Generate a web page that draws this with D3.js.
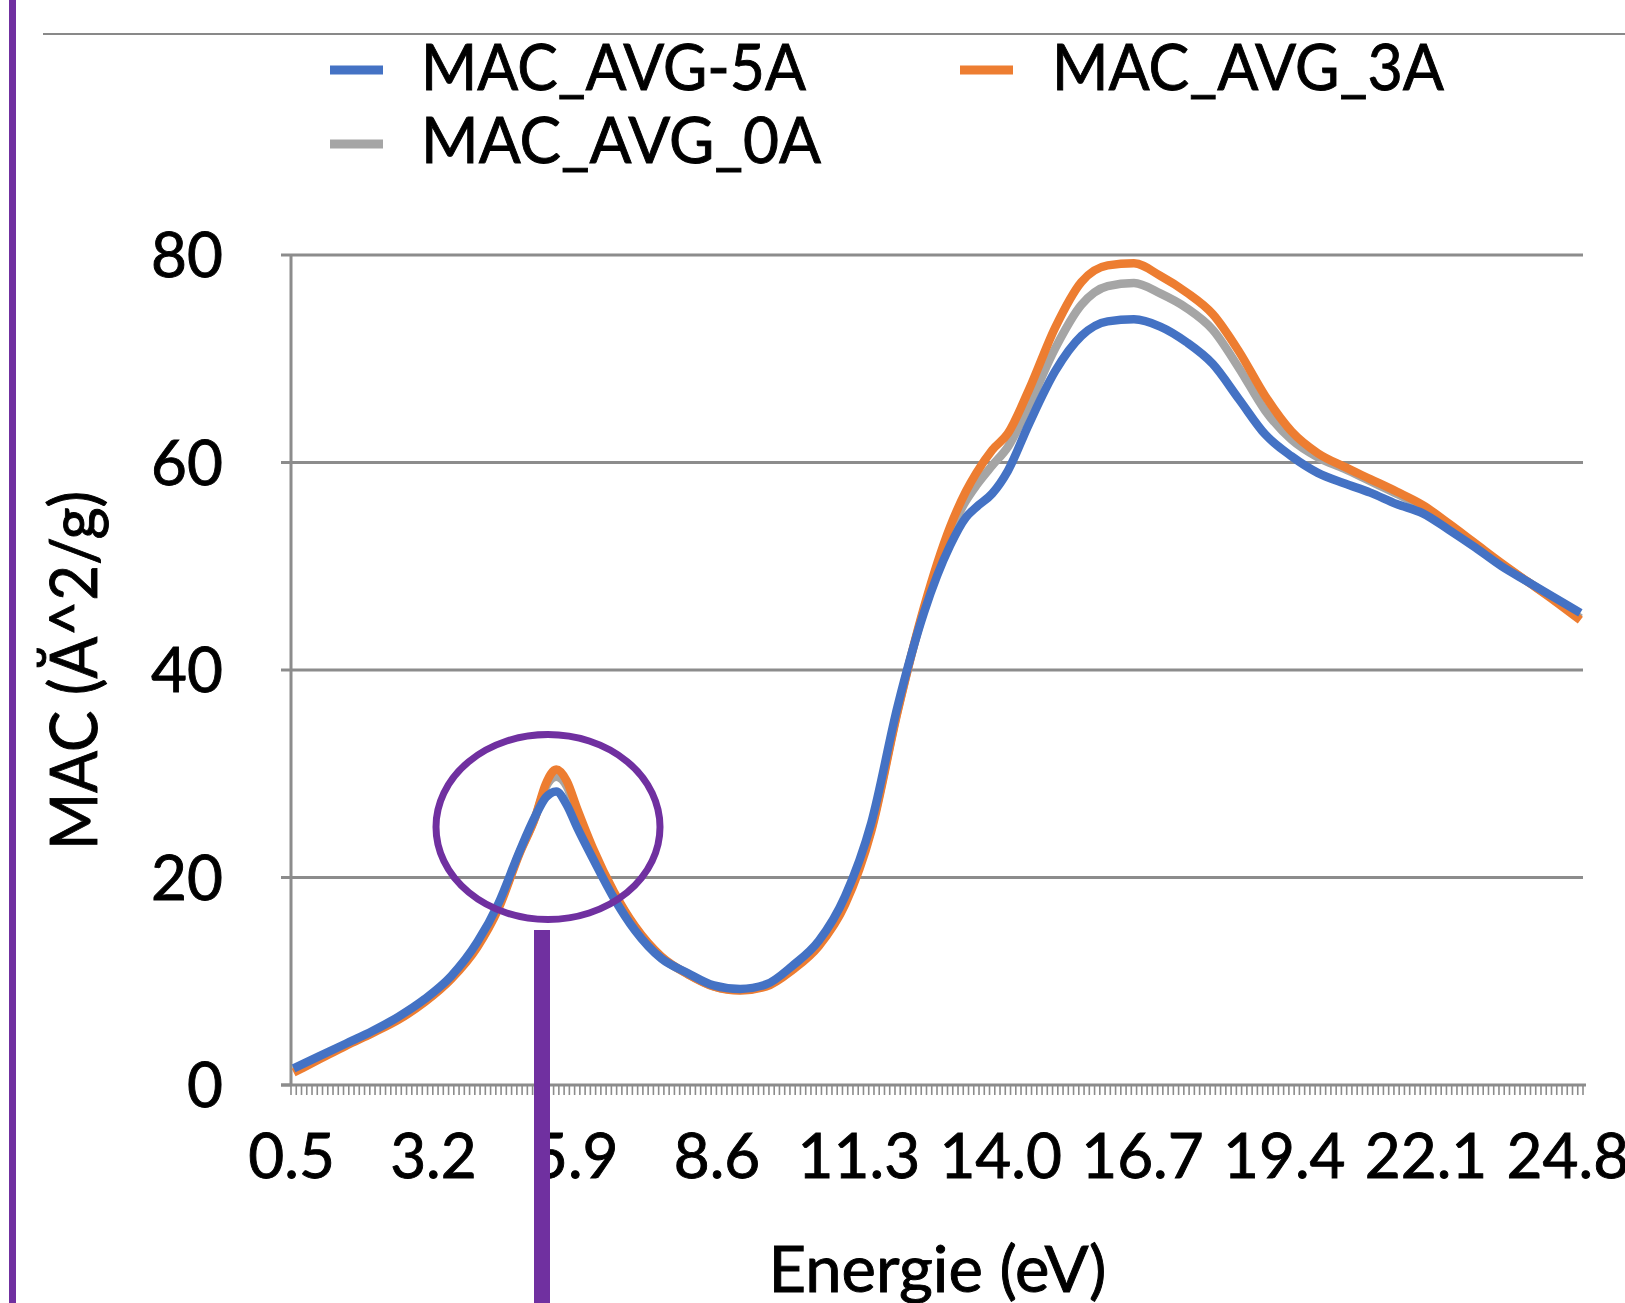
<!DOCTYPE html>
<html>
<head>
<meta charset="utf-8">
<script src="https://cdn.jsdelivr.net/npm/d3@7"></script>
<style>
  html, body { margin: 0; padding: 0; background: #ffffff; }
  svg { display: block; }
  text { font-family: Lato, "Open Sans", sans-serif; fill: #000; stroke: #000; stroke-width: 0.9px; }
</style>
</head>
<body>
<div id="chart"></div>
<script>
// ---------------- DATA ----------------
const seriesNames = ["MAC_AVG-5A", "MAC_AVG_3A", "MAC_AVG_0A"];
const seriesColors = ["#4472C4", "#ED7D31", "#A5A5A5"];

const energies = [0.5,1.0,1.5,2.0,2.5,3.0,3.5,4.0,4.4,4.8,5.1,5.3,5.5,5.7,5.9,6.2,6.6,7.0,7.5,8.0,
  8.5,9.0,9.5,10.0,10.5,11.0,11.5,12.0,12.5,13.0,13.3,13.5,13.8,14.1,14.5,15.0,15.5,16.0,16.5,17.0,
  17.5,18.0,18.5,19.0,19.5,20.0,20.5,21.0,21.5,22.0,22.5,23.0,23.5,24.0,24.5,25.0];

const mac5A = [1.6,2.8,4.0,5.2,6.6,8.3,10.5,13.8,17.5,22.5,25.9,27.7,28.3,27.0,24.8,21.8,18.0,14.9,12.2,10.8,
  9.6,9.25,9.7,11.5,13.9,18.2,25.3,36.5,45.5,52.0,54.7,55.7,57.0,59.2,63.7,68.8,72.2,73.6,73.8,73.1,
  71.6,69.5,66.1,62.7,60.6,59.0,58.0,57.1,56.0,55.1,53.5,51.8,50.0,48.5,47.0,45.5];

const mac3A = [1.2,2.5,3.8,5.0,6.3,8.0,10.2,13.3,17.0,22.3,25.8,29.0,30.4,29.3,26.6,22.8,18.6,15.3,12.4,10.7,
  9.5,9.1,9.5,11.1,13.4,17.4,24.5,36.0,46.0,53.8,57.2,59.0,61.2,62.8,67.0,73.0,77.4,79.0,79.2,78.0,
  76.4,74.3,70.7,66.4,63.0,60.9,59.6,58.4,57.2,55.9,54.1,52.2,50.3,48.5,46.7,44.8];

const mac0A = [1.4,2.6,3.9,5.1,6.4,8.1,10.3,13.5,17.2,22.4,25.8,28.7,29.7,28.8,26.1,22.5,18.5,15.2,12.3,10.7,
  9.5,9.15,9.6,11.2,13.5,17.6,24.7,36.1,45.8,53.3,56.3,57.8,59.7,61.5,65.5,71.0,75.2,77.0,77.3,76.3,
  74.9,72.8,69.1,65.0,62.2,60.5,59.4,58.2,57.0,55.7,53.9,52.0,50.2,48.5,46.8,45.0];

const xTickLabels = ["0.5","3.2","5.9","8.6","11.3","14.0","16.7","19.4","22.1","24.8"];
const yTicks = [0, 20, 40, 60, 80];
const xTitle = "Energie (eV)";
const yTitle = "MAC (Ă^2/g)";

// ---------------- LAYOUT ----------------
const W = 1625, H = 1303;
const plot = { left: 291, right: 1583, top: 255, bottom: 1085 };
const gridColor = "#8C8C8C";
const purple = "#7030A0";

const svg = d3.select("#chart").append("svg")
  .attr("width", W).attr("height", H)
  .attr("viewBox", `0 0 ${W} ${H}`);

svg.append("rect").attr("width", W).attr("height", H).attr("fill", "#fff");

// Category axis: categories every 0.1 eV from 0.5 to 25.0, points between tick marks
const x = d3.scaleLinear().domain([0.45, 25.05]).range([plot.left, plot.right]);
const y = d3.scaleLinear().domain([0, 80]).range([plot.bottom, plot.top]);

// slide decorations
svg.append("rect").attr("x", 9).attr("y", 0).attr("width", 7).attr("height", H).attr("fill", purple);
svg.append("line").attr("x1", 43).attr("x2", W).attr("y1", 34).attr("y2", 34)
  .attr("stroke", "#898989").attr("stroke-width", 2);

// gridlines
svg.append("g").selectAll("line").data(yTicks.filter(d => d > 0)).join("line")
  .attr("x1", plot.left).attr("x2", plot.right)
  .attr("y1", d => y(d)).attr("y2", d => y(d))
  .attr("stroke", gridColor).attr("stroke-width", 3);

// y axis line + ticks
svg.append("line").attr("x1", plot.left).attr("x2", plot.left)
  .attr("y1", plot.top).attr("y2", plot.bottom)
  .attr("stroke", gridColor).attr("stroke-width", 3);
svg.append("g").selectAll("line").data(yTicks).join("line")
  .attr("x1", plot.left - 10).attr("x2", plot.left)
  .attr("y1", d => y(d)).attr("y2", d => y(d))
  .attr("stroke", gridColor).attr("stroke-width", 3);

// y tick labels
svg.append("g").selectAll("text").data(yTicks).join("text")
  .attr("x", 223).attr("y", d => y(d) + 22)
  .attr("text-anchor", "end")
  .attr("font-size", 62)
  .text(d => d);

// x axis line + minor ticks (category boundaries)
const boundaries = d3.range(0, 247).map(i => 0.45 + i * 0.1);
svg.append("g").selectAll("line").data(boundaries).join("line")
  .attr("x1", d => x(d)).attr("x2", d => x(d))
  .attr("y1", plot.bottom).attr("y2", plot.bottom + 10)
  .attr("stroke", gridColor).attr("stroke-width", 1.6);
svg.append("line").attr("x1", plot.left - 10).attr("x2", plot.right + 3)
  .attr("y1", plot.bottom).attr("y2", plot.bottom)
  .attr("stroke", gridColor).attr("stroke-width", 3);

// x tick labels
svg.append("g").selectAll("text").data(xTickLabels).join("text")
  .attr("x", d => x(+d) - 2).attr("y", 1178)
  .attr("text-anchor", "middle")
  .attr("font-size", 62)
  .text(d => d);

// lines
const line = d3.line().x((d, i) => x(energies[i])).y(d => y(d)).curve(d3.curveMonotoneX);
const series = [mac5A, mac3A, mac0A];
const drawOrder = [2, 1, 0];
svg.append("g").selectAll("path").data(drawOrder).join("path")
  .attr("d", k => line(series[k]))
  .attr("fill", "none")
  .attr("stroke", k => seriesColors[k])
  .attr("stroke-width", 8.5)
  .attr("stroke-linejoin", "round")
  .attr("stroke-linecap", "butt");

// legend
const legendItems = [
  { k: 0, sx: 330, tx: 421, sy: 70, ty: 90, w: 385 },
  { k: 1, sx: 960, tx: 1052, sy: 70, ty: 90, w: 392 },
  { k: 2, sx: 330, tx: 421, sy: 144, ty: 163, w: 400 }
];
const lg = svg.append("g");
lg.selectAll("line").data(legendItems).join("line")
  .attr("x1", d => d.sx).attr("x2", d => d.sx + 53)
  .attr("y1", d => d.sy).attr("y2", d => d.sy)
  .attr("stroke", d => seriesColors[d.k]).attr("stroke-width", 9);
lg.selectAll("text").data(legendItems).join("text")
  .attr("x", d => d.tx).attr("y", d => d.ty)
  .attr("font-size", 63)
  .attr("textLength", d => d.w).attr("lengthAdjust", "spacingAndGlyphs")
  .text(d => seriesNames[d.k]);

// axis titles
svg.append("text").attr("x", 937.5).attr("y", 1292)
  .attr("text-anchor", "middle").attr("font-size", 63)
  .attr("textLength", 338).attr("lengthAdjust", "spacingAndGlyphs")
  .text(xTitle);
svg.append("text")
  .attr("transform", "translate(97,670.5) rotate(-90)")
  .attr("text-anchor", "middle").attr("font-size", 65)
  .attr("textLength", 359).attr("lengthAdjust", "spacingAndGlyphs")
  .text(yTitle);

// annotations
svg.append("ellipse").attr("cx", 548).attr("cy", 827).attr("rx", 112).attr("ry", 92.5)
  .attr("fill", "none").attr("stroke", purple).attr("stroke-width", 7);
svg.append("rect").attr("x", 534).attr("y", 930).attr("width", 16).attr("height", H - 930)
  .attr("fill", purple);
</script>
</body>
</html>
